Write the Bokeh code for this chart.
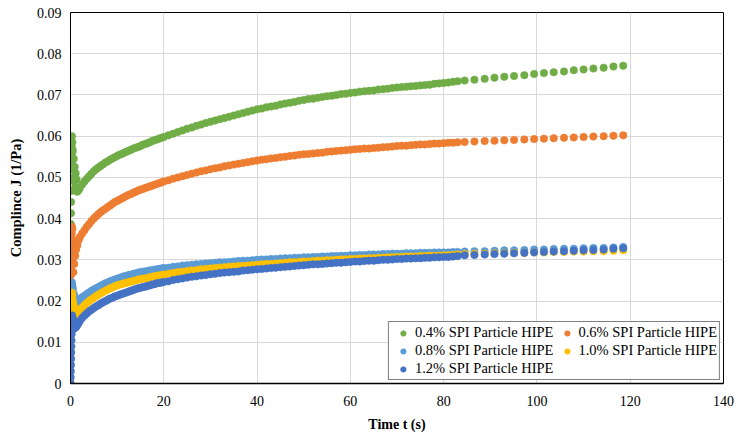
from bokeh.plotting import figure
from bokeh.models import FixedTicker, Range1d
from bokeh.embed import file_html
from bokeh.resources import INLINE

# ---------------- data ----------------
t_early = [0, 0.03, 0.06, 0.09, 0.12, 0.15, 0.18, 0.21, 0.24, 0.27, 0.3, 0.35, 0.4,
           0.45, 0.5, 0.6, 0.7, 0.8, 0.9, 1.0, 1.1, 1.2, 1.3, 1.45, 1.6, 1.8]
t_dense = [2, 2.5, 3, 3.5, 4, 4.5, 5, 5.5, 6, 6.5, 7, 7.5, 8, 8.5, 9, 9.5, 10, 10.5,
           11, 11.5, 12, 12.5, 13, 13.5, 14, 14.5, 15, 15.5, 16, 16.5, 17, 17.5, 18,
           18.5, 19, 19.5, 20,
           21, 22, 23, 24, 25, 26, 27, 28, 29, 30, 31, 32, 33, 34, 35, 36, 37, 38,
           39, 40, 41, 42, 43, 44, 45, 46, 47, 48, 49, 50, 51, 52, 53, 54, 55, 56,
           57, 58, 59, 60, 61, 62, 63, 64, 65, 66, 67, 68, 69, 70, 71, 72, 73, 74,
           75, 76, 77, 78, 79, 80, 81, 82, 83]
t_sparse = [84.5, 86.6, 88.8, 90.9, 93.0, 95.1, 97.3, 99.4, 101.5, 103.6, 105.8,
            107.9, 110.0, 112.1, 114.3, 116.4, 118.5]

# 0.4 % SPI Particle HIPE
green_early = [0, 0.036, 0.0387, 0.0413, 0.044, 0.0467, 0.0493, 0.052, 0.0547, 0.0573,
               0.060, 0.056, 0.0585, 0.053, 0.0565, 0.050, 0.0545, 0.049, 0.0525, 0.0475,
               0.051, 0.047, 0.0495, 0.0465, 0.0475, 0.047]
green_dense = [0.0475, 0.0483, 0.0490, 0.0497, 0.0503, 0.0509, 0.0515, 0.0520, 0.0524,
               0.0528, 0.0532, 0.0536, 0.0539, 0.0543, 0.0546, 0.0549, 0.0552, 0.0555,
               0.0557, 0.0560, 0.0562, 0.0565, 0.0567, 0.0570, 0.0572, 0.0574, 0.0576,
               0.0579, 0.0581, 0.0583, 0.0585, 0.0588, 0.0590, 0.0592, 0.0594, 0.0596,
               0.0598,
               0.0602, 0.0606, 0.0610, 0.0614, 0.0618, 0.0621, 0.0625, 0.0628,
               0.0632, 0.0635, 0.0638, 0.0641, 0.0644, 0.0647, 0.0650, 0.0653, 0.0656,
               0.0659, 0.0662, 0.0665, 0.0667, 0.0670, 0.0672, 0.0674, 0.0677, 0.0679,
               0.0681, 0.0683, 0.0686, 0.0688, 0.0690, 0.0691, 0.0693, 0.0695, 0.0697,
               0.0698, 0.0700, 0.0702, 0.0703, 0.0705, 0.0706, 0.0708, 0.0709, 0.0710,
               0.0711, 0.0713, 0.0714, 0.0715, 0.0717, 0.0718, 0.0719, 0.0720, 0.0721,
               0.0722, 0.0723, 0.0724, 0.0725, 0.0727, 0.0728, 0.0729, 0.0730, 0.0732, 0.0733]
green_sparse = [0.0735, 0.0737, 0.0739, 0.0742, 0.0744, 0.0746, 0.0748, 0.0751, 0.0753,
                0.0755, 0.0757, 0.0760, 0.0762, 0.0764, 0.0766, 0.0769, 0.0771]

# 0.6 % SPI Particle HIPE
orange_early = [0, 0.023, 0.0247, 0.0263, 0.028, 0.0297, 0.0313, 0.033, 0.0347, 0.0363,
                0.038, 0.035, 0.0375, 0.030, 0.0345, 0.027, 0.033, 0.029, 0.0335, 0.031,
                0.034, 0.0325, 0.0345, 0.0335, 0.0345, 0.035]
orange_dense = [0.0355, 0.0364, 0.0372, 0.0380, 0.0387, 0.0394, 0.0400, 0.0406, 0.0411,
                0.0416, 0.0420, 0.0424, 0.0428, 0.0432, 0.0436, 0.0440, 0.0443, 0.0446,
                0.0449, 0.0452, 0.0455, 0.0458, 0.0460, 0.0463, 0.0465, 0.0468, 0.0470,
                0.0472, 0.0474, 0.0476, 0.0478, 0.0480, 0.0482, 0.0484, 0.0486, 0.0488,
                0.0490,
                0.0493, 0.0497, 0.0500, 0.0503, 0.0506, 0.0509, 0.0512, 0.0515,
                0.0517, 0.0520, 0.0522, 0.0524, 0.0527, 0.0529, 0.0531, 0.0533, 0.0535,
                0.0537, 0.0539, 0.0541, 0.0543, 0.0544, 0.0546, 0.0547, 0.0549, 0.0550,
                0.0552, 0.0553, 0.0555, 0.0556, 0.0557, 0.0558, 0.0559, 0.0560, 0.0562,
                0.0563, 0.0564, 0.0565, 0.0566, 0.0567, 0.0568, 0.0569, 0.0570, 0.0570,
                0.0571, 0.0572, 0.0573, 0.0574, 0.0575, 0.0576, 0.0577, 0.0577, 0.0578,
                0.0579, 0.0580, 0.0580, 0.0581, 0.0582, 0.0582, 0.0583, 0.0584, 0.0584, 0.0585]
orange_sparse = [0.0586, 0.0587, 0.0588, 0.0589, 0.0590, 0.0591, 0.0592, 0.0593, 0.0594,
                 0.0595, 0.0596, 0.0597, 0.0598, 0.0599, 0.0600, 0.0601, 0.0602]

# 0.8 % SPI Particle HIPE
lblue_early = [0, 0.0175, 0.0183, 0.019, 0.0198, 0.0205, 0.0213, 0.022, 0.0228, 0.0237,
               0.0245, 0.022, 0.0238, 0.0205, 0.023, 0.0195, 0.0218, 0.0193, 0.021, 0.0195,
               0.0202, 0.0196, 0.0199, 0.0198, 0.0200, 0.0203]
lblue_dense = [0.0205, 0.0209, 0.0213, 0.0217, 0.0221, 0.0225, 0.0228, 0.0231, 0.0234,
               0.0237, 0.0240, 0.0243, 0.0245, 0.0248, 0.0250, 0.0252, 0.0254, 0.0256,
               0.0258, 0.0260, 0.0261, 0.0263, 0.0264, 0.0266, 0.0267, 0.0269, 0.0270,
               0.0271, 0.0272, 0.0273, 0.0274, 0.0275, 0.0276, 0.0277, 0.0278, 0.0279,
               0.0280,
               0.0281, 0.0283, 0.0284, 0.0286, 0.0287, 0.0288, 0.0289, 0.0290,
               0.0291, 0.0292, 0.0293, 0.0294, 0.0294, 0.0295, 0.0296, 0.0297, 0.0298,
               0.0298, 0.0299, 0.0300, 0.0301, 0.0301, 0.0302, 0.0302, 0.0303, 0.0304,
               0.0304, 0.0305, 0.0305, 0.0306, 0.0306, 0.0307, 0.0307, 0.0308, 0.0308,
               0.0309, 0.0309, 0.0310, 0.0310, 0.0311, 0.0311, 0.0312, 0.0312, 0.0313,
               0.0313, 0.0313, 0.0314, 0.0314, 0.0315, 0.0315, 0.0315, 0.0316, 0.0316,
               0.0316, 0.0317, 0.0317, 0.0317, 0.0318, 0.0318, 0.0318, 0.0318, 0.0319, 0.0319]
lblue_sparse = [0.0320, 0.0321, 0.0321, 0.0322, 0.0323, 0.0323, 0.0324, 0.0325, 0.0325,
                0.0326, 0.0327, 0.0327, 0.0328, 0.0329, 0.0329, 0.0330, 0.0331]

# 1.0 % SPI Particle HIPE
yellow_early = [0, 0.0135, 0.0145, 0.0155, 0.0165, 0.0175, 0.0185, 0.0195, 0.0205, 0.0213,
                0.022, 0.019, 0.0212, 0.0178, 0.020, 0.0168, 0.019, 0.0165, 0.018, 0.0166,
                0.0172, 0.0167, 0.017, 0.0169, 0.0172, 0.0175]
yellow_dense = [0.0178, 0.0184, 0.0190, 0.0195, 0.0200, 0.0204, 0.0208, 0.0212, 0.0215,
                0.0219, 0.0222, 0.0225, 0.0228, 0.0231, 0.0233, 0.0236, 0.0238, 0.0240,
                0.0241, 0.0243, 0.0244, 0.0246, 0.0247, 0.0249, 0.0250, 0.0252, 0.0253,
                0.0254, 0.0255, 0.0256, 0.0257, 0.0259, 0.0260, 0.0261, 0.0262, 0.0263,
                0.0264,
                0.0266, 0.0268, 0.0270, 0.0271, 0.0273, 0.0274, 0.0275, 0.0277,
                0.0278, 0.0279, 0.0280, 0.0281, 0.0282, 0.0283, 0.0284, 0.0285, 0.0285,
                0.0286, 0.0287, 0.0288, 0.0289, 0.0290, 0.0290, 0.0291, 0.0292, 0.0293,
                0.0294, 0.0294, 0.0295, 0.0296, 0.0296, 0.0297, 0.0298, 0.0298, 0.0299,
                0.0299, 0.0300, 0.0301, 0.0301, 0.0302, 0.0302, 0.0303, 0.0303, 0.0304,
                0.0304, 0.0305, 0.0305, 0.0306, 0.0306, 0.0307, 0.0307, 0.0308, 0.0308,
                0.0308, 0.0309, 0.0309, 0.0310, 0.0310, 0.0310, 0.0311, 0.0311, 0.0312, 0.0313]
yellow_sparse = [0.0314, 0.0315, 0.0315, 0.0316, 0.0316, 0.0317, 0.0317, 0.0318, 0.0318,
                 0.0319, 0.0319, 0.0320, 0.0320, 0.0321, 0.0321, 0.0322, 0.0323]

# 1.2 % SPI Particle HIPE
dblue_early = [0, 0.0015, 0.003, 0.0045, 0.006, 0.0075, 0.009, 0.0105, 0.012, 0.0135,
               0.015, 0.0165, 0.0145, 0.016, 0.0138, 0.0152, 0.0133, 0.0145, 0.0135, 0.0142,
               0.0136, 0.014, 0.0139, 0.0142, 0.0145, 0.0148]
dblue_dense = [0.0152, 0.0159, 0.0165, 0.0170, 0.0175, 0.0179, 0.0183, 0.0187, 0.0190,
               0.0194, 0.0197, 0.0200, 0.0203, 0.0206, 0.0208, 0.0211, 0.0213, 0.0215,
               0.0217, 0.0219, 0.0221, 0.0223, 0.0225, 0.0227, 0.0229, 0.0231, 0.0232,
               0.0234, 0.0235, 0.0237, 0.0238, 0.0240, 0.0241, 0.0243, 0.0244, 0.0245,
               0.0246,
               0.0248, 0.0251, 0.0253, 0.0255, 0.0257, 0.0259, 0.0260, 0.0262,
               0.0263, 0.0265, 0.0266, 0.0268, 0.0269, 0.0270, 0.0271, 0.0272, 0.0274,
               0.0275, 0.0276, 0.0277, 0.0278, 0.0279, 0.0280, 0.0281, 0.0282, 0.0283,
               0.0284, 0.0285, 0.0286, 0.0287, 0.0288, 0.0289, 0.0289, 0.0290, 0.0291,
               0.0292, 0.0293, 0.0293, 0.0294, 0.0295, 0.0296, 0.0296, 0.0297, 0.0298,
               0.0298, 0.0299, 0.0300, 0.0300, 0.0301, 0.0302, 0.0302, 0.0303, 0.0303,
               0.0304, 0.0304, 0.0305, 0.0305, 0.0306, 0.0306, 0.0307, 0.0307, 0.0308, 0.0309]
dblue_sparse = [0.0311, 0.0312, 0.0313, 0.0314, 0.0315, 0.0316, 0.0317, 0.0318, 0.0319,
                0.0320, 0.0321, 0.0322, 0.0323, 0.0324, 0.0325, 0.0327, 0.0328]

series_names = ["0.4% SPI Particle HIPE", "0.6% SPI Particle HIPE",
                "0.8% SPI Particle HIPE", "1.0% SPI Particle HIPE",
                "1.2% SPI Particle HIPE"]
x_ticks = [0, 20, 40, 60, 80, 100, 120, 140]
y_ticks = [0, 0.01, 0.02, 0.03, 0.04, 0.05, 0.06, 0.07, 0.08, 0.09]
y_tick_labels = ["0", "0.01", "0.02", "0.03", "0.04", "0.05", "0.06", "0.07", "0.08", "0.09"]

# ---------------- figure ----------------
FONT = "Liberation Serif"
colors = ["#70AD47", "#ED7D31", "#5B9BD5", "#FFC000", "#4472C4"]

p = figure(width=734, height=436, output_backend="svg", toolbar_location=None,
           x_range=Range1d(0, 140), y_range=Range1d(0, 0.09),
           min_border_left=70, min_border_right=11, min_border_top=12,
           min_border_bottom=53)
p.background_fill_color = "white"
p.border_fill_color = "white"
p.outline_line_color = "black"
p.outline_line_width = 1

t_all = t_early + t_dense + t_sparse
all_series = [
    green_early + green_dense + green_sparse,
    orange_early + orange_dense + orange_sparse,
    lblue_early + lblue_dense + lblue_sparse,
    yellow_early + yellow_dense + yellow_sparse,
    dblue_early + dblue_dense + dblue_sparse,
]
for vals, col, name in zip(all_series, colors, series_names):
    p.scatter(t_all, vals, size=7.5, fill_color=col, line_color=col, line_width=0.5,
              legend_label=name)

# axes
p.xaxis.ticker = FixedTicker(ticks=x_ticks)
p.yaxis.ticker = FixedTicker(ticks=y_ticks)
p.yaxis.major_label_overrides = {v: s for v, s in zip(y_ticks, y_tick_labels)}
p.xaxis.major_label_overrides = {v: str(v) for v in x_ticks}
for ax in (p.xaxis, p.yaxis):
    ax.major_tick_out = 0
    ax.major_tick_in = 0
    ax.minor_tick_out = 0
    ax.minor_tick_in = 0
    ax.axis_line_color = "black"
    ax.major_label_text_font = FONT
    ax.major_label_text_font_size = "14px"
    ax.major_label_text_color = "black"
    ax.axis_label_text_font = FONT
    ax.axis_label_text_font_size = "14px"
    ax.axis_label_text_font_style = "bold"
    ax.axis_label_text_color = "black"
p.yaxis.axis_label_text_font_size = "14.5px"
p.xaxis.axis_line_width = 1.5
p.yaxis.axis_line_width = 1
p.xaxis.major_label_standoff = 12
p.yaxis.major_label_standoff = 9
p.xaxis.axis_label = "Time t (s)"
p.yaxis.axis_label = "Complince J (1/Pa)"
p.xaxis.axis_label_standoff = 8
p.yaxis.axis_label_standoff = 10

p.xgrid.ticker = FixedTicker(ticks=x_ticks)
p.ygrid.ticker = FixedTicker(ticks=y_ticks)
p.grid.grid_line_color = "#d9d9d9"
p.grid.grid_line_width = 1

# legend (2 columns, filled row by row as in the reference)
lg = p.legend[0]
it = list(lg.items)
lg.items = [it[0], it[2], it[4], it[1], it[3]]
lg.location = "bottom_right"
lg.ncols = 2
lg.label_text_font = FONT
lg.label_text_font_size = "14.5px"
lg.label_text_color = "black"
lg.border_line_color = "black"
lg.border_line_width = 1.5
lg.background_fill_color = "white"
lg.background_fill_alpha = 1
lg.margin = 3
lg.padding = 2
lg.spacing = 1
lg.glyph_width = 24
lg.glyph_height = 14
lg.label_height = 14
lg.label_standoff = 0

open("out.html", "w").write(file_html(p, INLINE))
